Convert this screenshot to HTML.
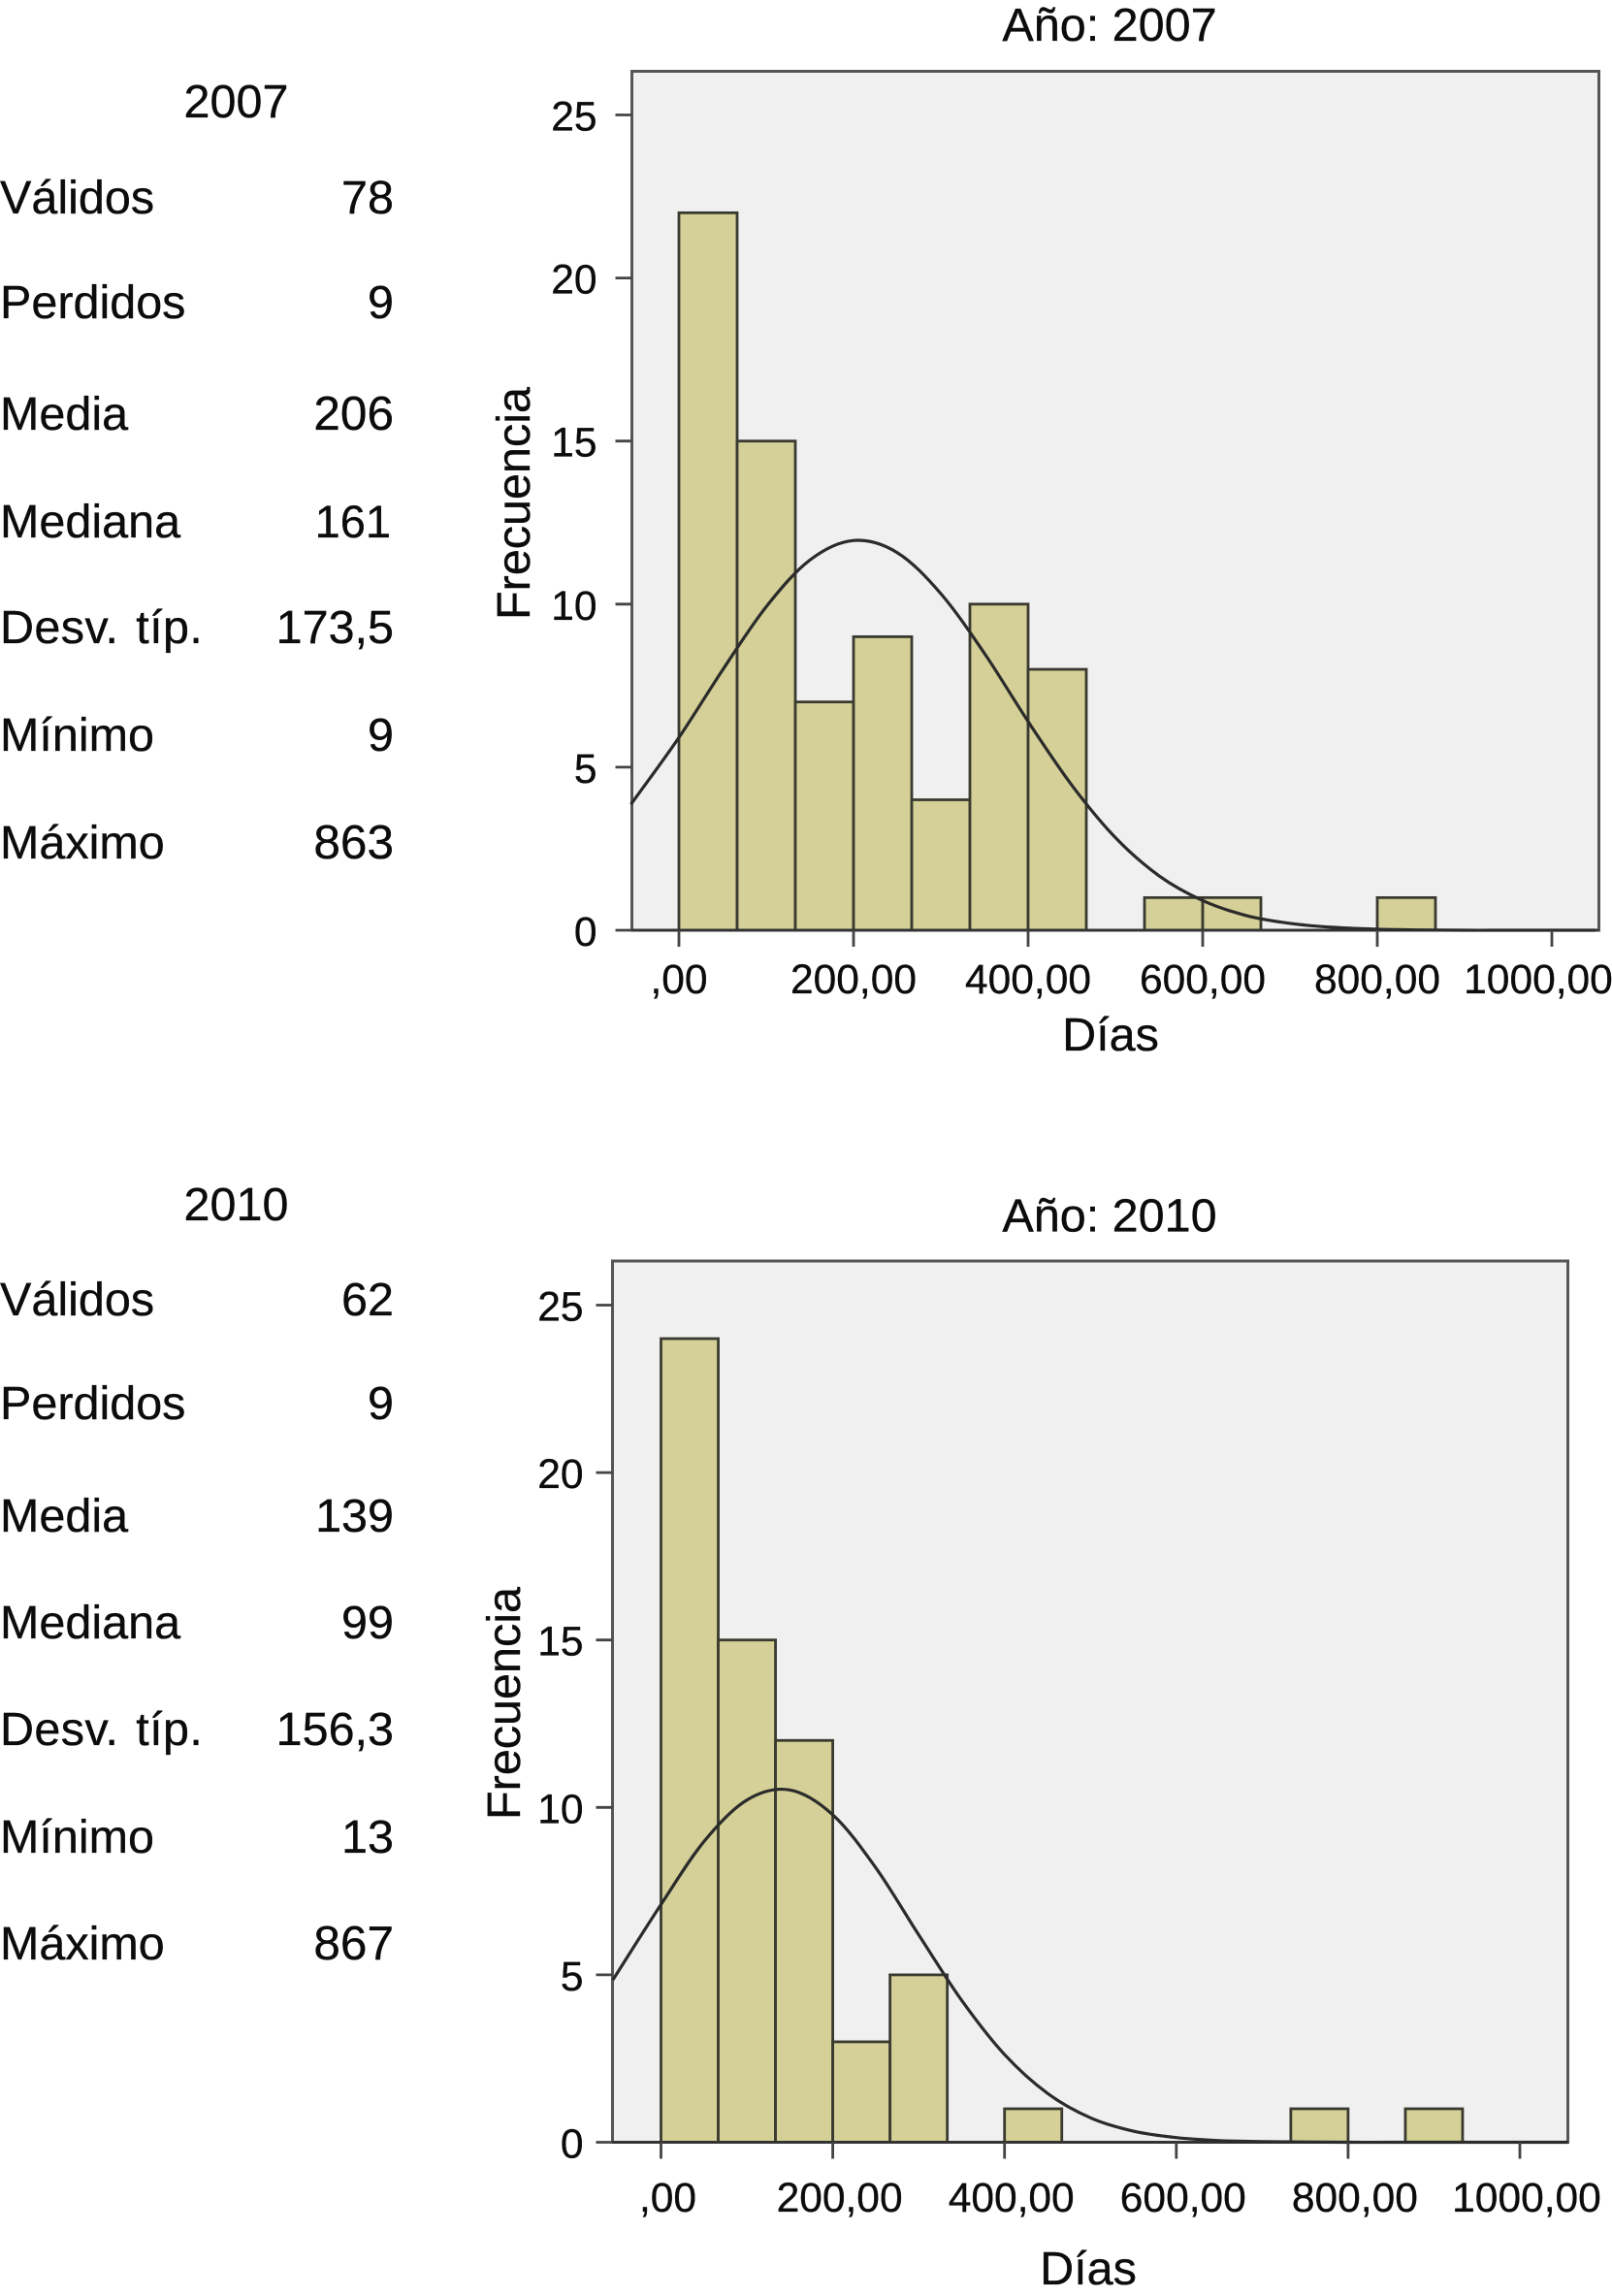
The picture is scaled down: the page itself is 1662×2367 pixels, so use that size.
<!DOCTYPE html>
<html lang="es">
<head>
<meta charset="utf-8">
<title>Histogramas de días, 2007 y 2010</title>
<style>
  html, body { margin: 0; padding: 0; background: #fff; }
  svg { display: block; }
  text { font-family: "Liberation Sans", Arial, sans-serif; fill: #0c0c0c; stroke: #0c0c0c; stroke-width: 0.35px; }
</style>
</head>
<body>
<svg id="figure" xmlns="http://www.w3.org/2000/svg" width="1662" height="2367" viewBox="0 0 1662 2367">
  <g font-size="48.5">
    <text x="243.5" y="121" text-anchor="middle">2007</text>
    <text x="0" y="220">Válidos</text>
    <text x="406" y="220" text-anchor="end">78</text>
    <text x="0" y="328">Perdidos</text>
    <text x="406" y="328" text-anchor="end">9</text>
    <text x="0" y="443">Media</text>
    <text x="406" y="443" font-size="49.5" text-anchor="end">206</text>
    <text x="0" y="554">Mediana</text>
    <text x="403" y="554" font-size="47" text-anchor="end">161</text>
    <text x="0" y="663" word-spacing="4" letter-spacing="0.4">Desv. típ.</text>
    <text x="406" y="663" text-anchor="end">173,5</text>
    <text x="0" y="774">Mínimo</text>
    <text x="406" y="774" text-anchor="end">9</text>
    <text x="0" y="885">Máximo</text>
    <text x="406" y="885" font-size="49.5" text-anchor="end">863</text>
  </g>
  <g font-size="48.5">
    <text x="243.5" y="1258" text-anchor="middle">2010</text>
    <text x="0" y="1356">Válidos</text>
    <text x="406" y="1356" text-anchor="end">62</text>
    <text x="0" y="1463">Perdidos</text>
    <text x="406" y="1463" text-anchor="end">9</text>
    <text x="0" y="1579">Media</text>
    <text x="406" y="1579" text-anchor="end">139</text>
    <text x="0" y="1689">Mediana</text>
    <text x="406" y="1689" text-anchor="end">99</text>
    <text x="0" y="1799" word-spacing="4" letter-spacing="0.4">Desv. típ.</text>
    <text x="406" y="1799" text-anchor="end">156,3</text>
    <text x="0" y="1910">Mínimo</text>
    <text x="406" y="1910" text-anchor="end">13</text>
    <text x="0" y="2020">Máximo</text>
    <text x="406" y="2020" font-size="49.5" text-anchor="end">867</text>
  </g>
</svg>
<script>
// Shared tick labels
const yTickValues = [0, 5, 10, 15, 20, 25];
const xTickValues = [0, 200, 400, 600, 800, 1000];
const xTickLabels = [",00", "200,00", "400,00", "600,00", "800,00", "1000,00"];
const binWidthDays = 66.67;

// 2007 histogram
const binStarts2007 = [0, 66.67, 133.33, 200, 266.67, 333.33, 400, 533.33, 600, 800];
const counts2007 = [22, 15, 7, 9, 4, 10, 8, 1, 1, 1];
const curveDays2007 = [-55, 0, 50, 100, 150, 200, 250, 300, 350, 400, 450, 500, 550, 600, 650, 700, 750, 800, 850, 900, 950, 1000, 1050];
const curveFreq2007 = [3.86, 5.91, 7.98, 9.92, 11.35, 11.95, 11.58, 10.32, 8.49, 6.40, 4.45, 2.84, 1.67, 0.91, 0.45, 0.21, 0.09, 0.03, 0.01, 0, 0, 0, 0];

// 2010 histogram
const binStarts2010 = [0, 66.67, 133.33, 200, 266.67, 400, 733.33, 866.67];
const counts2010 = [24, 15, 12, 3, 5, 1, 1, 1];
const curveDays2010 = [-56, 0, 50, 100, 150, 200, 250, 300, 350, 400, 450, 500, 550, 600, 650, 700, 750, 800, 850, 900, 950, 1000, 1056];
const curveFreq2010 = [4.85, 7.10, 8.98, 10.22, 10.52, 9.78, 8.20, 6.20, 4.24, 2.62, 1.46, 0.73, 0.33, 0.14, 0.05, 0.02, 0.01, 0, 0, 0, 0, 0, 0];

const SVG_NS = "http://www.w3.org/2000/svg";
const figure = document.getElementById("figure");

function make(tag, attrs, parent, content) {
  const el = document.createElementNS(SVG_NS, tag);
  for (const k in attrs) el.setAttribute(k, attrs[k]);
  if (content !== undefined) el.textContent = content;
  parent.appendChild(el);
  return el;
}

function drawChart(c) {
  const xScale = v => c.x0 + (c.x1000 - c.x0) * v / 1000;
  const yScale = v => c.y0 + (c.y25 - c.y0) * v / 25;

  const group = make("g", {}, figure);
  
  

  const title = make("text", { x: 1144, y: c.titleY, "text-anchor": "middle", "font-size": 48.5 }, group, "Año: " + c.year);
  
  

  const panel = make("rect", { x: c.left, y: c.top, width: c.right - c.left, height: c.y0 - c.top, fill: "#f0f0f0", stroke: "#555", "stroke-width": 3 }, group);
  
  

  c.starts.forEach((start, i) => {
    const bar = make("rect", {
      x: xScale(start),
      y: yScale(c.counts[i]),
      width: xScale(start + binWidthDays) - xScale(start),
      height: yScale(0) - yScale(c.counts[i]),
      fill: "#d4d097", stroke: "#3a3a30", "stroke-width": 2.8
    }, group);
    
    
  });

  const xAxis = make("line", { x1: c.left, x2: c.right, y1: c.y0, y2: c.y0, stroke: "#333", "stroke-width": 3 }, group);
  
  

  const pts = c.curveDays.map((d, i) => [xScale(d), yScale(c.curveFreq[i])]);
  let d = "M" + pts[0][0].toFixed(1) + " " + pts[0][1].toFixed(1);
  for (let i = 0; i < pts.length - 1; i++) {
    const p0 = pts[Math.max(i - 1, 0)], p1 = pts[i], p2 = pts[i + 1], p3 = pts[Math.min(i + 2, pts.length - 1)];
    const h = p2[0] - p1[0];
    const m1 = (p2[1] - p0[1]) / (p2[0] - p0[0]);
    const m2 = (p3[1] - p1[1]) / (p3[0] - p1[0]);
    d += " C" + (p1[0] + h / 3).toFixed(1) + " " + (p1[1] + m1 * h / 3).toFixed(1) + " " +
         (p2[0] - h / 3).toFixed(1) + " " + (p2[1] - m2 * h / 3).toFixed(1) + " " +
         p2[0].toFixed(1) + " " + p2[1].toFixed(1);
  }
  const curve = make("path", { d: d, fill: "none", stroke: "#2b2b2b", "stroke-width": 3.2 }, group);
  
  

  yTickValues.forEach(v => {
    const tick = make("line", { x1: c.left - 17, x2: c.left, y1: yScale(v), y2: yScale(v), stroke: "#444", "stroke-width": 2.8 }, group);
    
    
    const label = make("text", { x: c.left - c.yLabelGap, y: yScale(v) + 16, "text-anchor": "end", "font-size": 42.5 }, group, String(v));
    
    
  });

  xTickValues.forEach((v, i) => {
    const tick = make("line", { x1: xScale(v), x2: xScale(v), y1: c.y0, y2: c.y0 + 17, stroke: "#444", "stroke-width": 2.8 }, group);
    
    
    const label = make("text", { x: Math.min(xScale(v) + c.xLabelShift, 1586), y: c.xLabelY, "text-anchor": "middle", "font-size": 42.5 }, group, xTickLabels[i]);
    
    
  });

  const xTitle = make("text", { x: c.xTitleX, y: c.xTitleY, "text-anchor": "middle", "font-size": 48.5 }, group, "Días");
  
  

  const yTitle = make("text", { transform: "translate(" + c.yTitleX + " " + c.yTitleY + ") rotate(-90)", "text-anchor": "middle", "font-size": 48.5 }, group, "Frecuencia");
  
  
}

drawChart({
  year: 2007, starts: binStarts2007, counts: counts2007, curveDays: curveDays2007, curveFreq: curveFreq2007,
  left: 651.5, right: 1648.5, top: 73.5, x0: 700, x1000: 1600, y0: 959, y25: 118.5,
  yLabelGap: 36, xLabelShift: 0,
  titleY: 42, xLabelY: 1024, xTitleX: 1145, xTitleY: 1083, yTitleX: 546, yTitleY: 519
});
drawChart({
  year: 2010, starts: binStarts2010, counts: counts2010, curveDays: curveDays2010, curveFreq: curveFreq2010,
  left: 631.5, right: 1616.5, top: 1300, x0: 681.5, x1000: 1567, y0: 2208.5, y25: 1345.5,
  yLabelGap: 30, xLabelShift: 7,
  titleY: 1269.5, xLabelY: 2280, xTitleX: 1122, xTitleY: 2355, yTitleX: 536, yTitleY: 1756
});
</script>
</body>
</html>
